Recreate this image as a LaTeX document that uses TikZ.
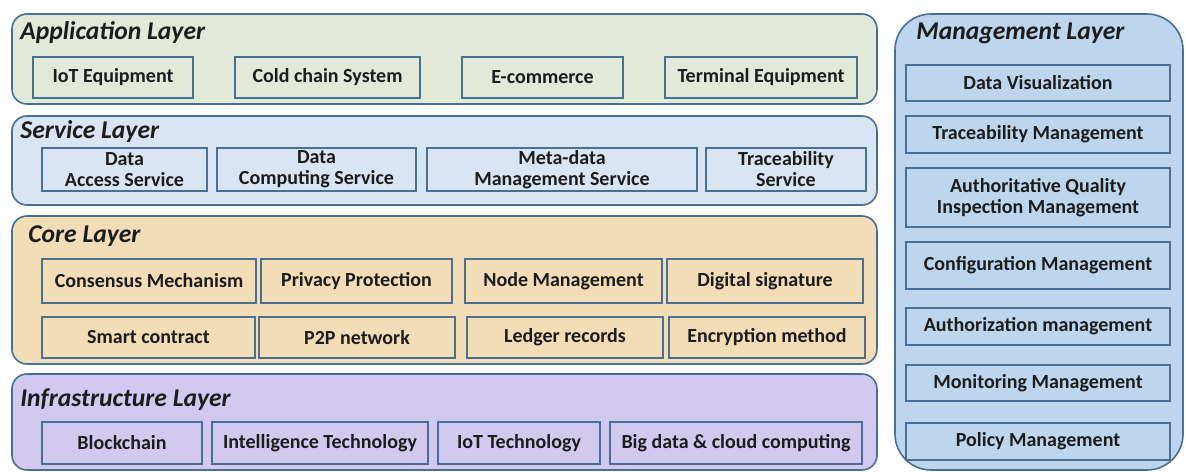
\documentclass[tikz,border=0pt]{standalone}
\usepackage{fontspec}
\setmainfont{Carlito}
\usepackage{tikz}

\definecolor{edge}{HTML}{4A6F95}
\definecolor{appfill}{HTML}{E1EAD8}
\definecolor{srvfill}{HTML}{DAE5F4}
\definecolor{corefill}{HTML}{F2DDB6}
\definecolor{infrafill}{HTML}{D2CAEE}
\definecolor{mgmtfill}{HTML}{BDD6EE}
\definecolor{ink}{HTML}{1C1C1C}

\tikzset{
  layer/.style={draw=edge, line width=0.8pt, rounded corners=7.5pt},
  box/.style={draw=edge, line width=0.8pt},
  lbl/.style={text=ink, font=\fontsize{10}{10.5}\selectfont\bfseries, align=center, inner sep=0pt},
  ttl/.style={text=ink, anchor=west, inner sep=0pt, font=\fontsize{12.8}{13}\selectfont\bfseries\itshape}
}

\begin{document}
\begin{tikzpicture}[x=0.5pt, y=-0.5pt]
\useasboundingbox (0,0) rectangle (1186,471);

% application layer
\draw[layer, fill=appfill] (12,14) rectangle (877,104);
\node[ttl] (apptitle) at (20,33) {Application Layer};
\draw[box] (33,57) rectangle node[lbl] (iot) {IoT Equipment} (193,98);
\draw[box] (235,57) rectangle node[lbl] (cold) {Cold chain System} (420,98);
\draw[box] (462,57) rectangle node[lbl] (ecom) {E-commerce} (623,98);
\draw[box] (665,57) rectangle node[lbl] (term) {Terminal Equipment} (857,98);

% service layer
\draw[layer, fill=srvfill] (12,116) rectangle (877,205);
\node[ttl] (srvtitle) at (20,132) {Service Layer};
\draw[box] (42,148) rectangle node[lbl] (access) {Data\\Access Service} (207,191);
\draw[box] (217,148) rectangle node[lbl] (compute) {Data\\Computing Service} (416,191);
\draw[box] (427,148) rectangle node[lbl] (meta) {Meta-data\\Management Service} (697,191);
\draw[box] (706,148) rectangle node[lbl] (tracesrv) {Traceability\\Service} (866,191);

% core layer
\draw[layer, fill=corefill] (12,216) rectangle (877,364);
\node[ttl] (coretitle) at (28,236) {Core Layer};
\draw[box] (42,259) rectangle node[lbl] (consensus) {Consensus Mechanism} (256,303);
\draw[box] (261,259) rectangle node[lbl] (privacy) {Privacy Protection} (452,303);
\draw[box] (465,259) rectangle node[lbl] (nodemgmt) {Node Management} (662,303);
\draw[box] (667,259) rectangle node[lbl] (digsig) {Digital signature} (863,303);
\draw[box] (42,317) rectangle node[lbl] (smart) {Smart contract} (255,358);
\draw[box] (259,317) rectangle node[lbl] (ptop) {P2P network} (455,358);
\draw[box] (467,317) rectangle node[lbl] (ledger) {Ledger records} (663,358);
\draw[box] (669,317) rectangle node[lbl] (encrypt) {Encryption method} (865,358);

% infrastructure layer
\draw[layer, fill=infrafill] (12,374) rectangle (877,470);
\node[ttl] (infratitle) at (20,400) {Infrastructure Layer};
\draw[box] (42,422) rectangle node[lbl] (chain) {Blockchain} (202,464);
\draw[box] (212,422) rectangle node[lbl] (intel) {Intelligence Technology} (428,464);
\draw[box] (438,422) rectangle node[lbl] (iottech) {IoT Technology} (600,464);
\draw[box] (610,422) rectangle node[lbl] (bigdata) {Big data \& cloud computing} (862,464);

% management layer
\draw[layer, rounded corners=18pt, fill=mgmtfill] (895,14) rectangle (1183,470);
\node[ttl] (mgmttitle) at (916,33) {Management Layer};
\draw[box] (906,65) rectangle node[lbl] (vis) {Data Visualization} (1170,101);
\draw[box] (906,116) rectangle node[lbl] (tracemgmt) {Traceability Management} (1170,153);
\draw[box] (906,168) rectangle node[lbl] (quality) {Authoritative Quality\\Inspection Management} (1170,227);
\draw[box] (906,242) rectangle node[lbl] (config) {Configuration Management} (1170,289);
\draw[box] (906,308) rectangle node[lbl] (auth) {Authorization management} (1170,345);
\draw[box] (906,365) rectangle node[lbl] (monitor) {Monitoring Management} (1170,401);
\draw[box] (906,423) rectangle node[lbl] (policy) {Policy Management} (1170,460);
\end{tikzpicture}
\end{document}
